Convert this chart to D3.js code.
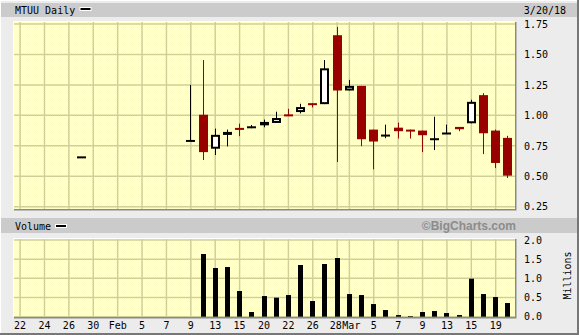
<!DOCTYPE html>
<html>
<head>
<meta charset="utf-8">
<script src="https://cdn.jsdelivr.net/npm/d3@7"></script>
<style>
  body { margin: 0; background: #ececec; }
  text { font-family: "DejaVu Sans Mono", monospace; font-size: 10px; fill: #000; }
  .domain { display: none; }
</style>
</head>
<body>
<script>
// trading days shown on the x axis (Jan 22 - Mar 20 2018)
var days = ["01-22","01-23","01-24","01-25","01-26","01-29","01-30","01-31",
    "02-01","02-02","02-05","02-06","02-07","02-08","02-09","02-12","02-13","02-14","02-15","02-16",
    "02-20","02-21","02-22","02-23","02-26","02-27","02-28",
    "03-01","03-02","03-05","03-06","03-07","03-08","03-09","03-12","03-13","03-14","03-15","03-16","03-19","03-20"];

var tickDays = ["01-22","01-24","01-26","01-30","02-01","02-05","02-07","02-09","02-13","02-15",
    "02-20","02-22","02-26","02-28","03-01","03-05","03-07","03-09","03-13","03-15","03-19"];
var tickLabels = ["22","24","26","30","Feb","5","7","9","13","15","20","22","26","28","Mar","5","7","9","13","15","19"];

// days that traded
var tradeDays = ["01-29","02-09","02-12","02-13","02-14","02-15","02-16","02-20","02-21","02-22","02-23",
    "02-26","02-27","02-28","03-01","03-02","03-05","03-06","03-07","03-08","03-09","03-12","03-13",
    "03-14","03-15","03-16","03-19","03-20"];
var open  = [0.655,0.79,1.005,0.726,0.845,0.897,0.902,0.918,0.9375,1.008,1.027,1.10,1.092,1.658,1.204,1.242,
    0.883,0.834,0.899,0.883,0.875,0.804,0.851,0.905,0.935,1.166,0.875,0.815];
var high  = [0.655,1.25,1.454,0.891,0.883,0.932,0.921,0.965,1.030,1.054,1.095,1.10,1.454,1.726,1.291,1.242,
    0.883,0.924,0.940,0.883,0.875,0.989,0.924,0.905,1.128,1.182,0.883,0.832];
var low   = [0.655,0.79,0.633,0.674,0.745,0.829,0.894,0.902,0.9375,1.002,1.016,1.065,1.092,0.617,1.204,0.747,
    0.557,0.8125,0.810,0.810,0.698,0.715,0.851,0.870,0.935,0.682,0.568,0.486];
var close = [0.655,0.79,0.698,0.840,0.864,0.891,0.902,0.946,0.978,1.002,1.068,1.095,1.386,1.204,1.242,0.804,
    0.785,0.834,0.870,0.870,0.837,0.804,0.851,0.886,1.111,0.853,0.609,0.505];
// volume in millions
var volume = [0,0,1.635,1.27,1.296,0.670,0.122,0.539,0.496,0.565,1.348,0.409,1.374,1.530,0.591,0.565,
    0.330,0.174,0.043,0.017,0.122,0.148,0.096,0.043,0.991,0.591,0.513,0.357];

var priceTicks = [0.25,0.50,0.75,1.00,1.25,1.50,1.75];
var volTicks = [0,0.5,1.0,1.5,2.0];

var width = 579, height = 335;
var plotL = 14, plotR = 515;
var pTop = 22, pBot = 209, vTop = 239, vBot = 317;
var red = "#990000";

var data = tradeDays.map(function (d, i) {
    return { day: d, o: open[i], h: high[i], l: low[i], c: close[i], v: volume[i] };
});

var svg = d3.select("body").append("svg")
    .attr("width", width)
    .attr("height", height)
    .style("display", "block");

var x = d3.scaleBand().domain(days).range([plotL, plotR - 1]);
var y = d3.scaleLinear().domain([0.25, 1.75]).range([206.7, 24]);
var vy = d3.scaleLinear().domain([0, 2]).range([316.7, 240]);
var cx = function (d) { return x(d) + x.bandwidth() / 2; };

// dithered yellow background
var pat = svg.append("defs").append("pattern")
    .attr("id", "dots").attr("width", 2).attr("height", 2)
    .attr("patternUnits", "userSpaceOnUse");
pat.append("rect").attr("width", 2).attr("height", 2).attr("fill", "#ffffff");
pat.append("rect").attr("width", 1).attr("height", 1).attr("fill", "#ffffc4");
pat.append("rect").attr("x", 1).attr("y", 1).attr("width", 1).attr("height", 1).attr("fill", "#ffffc4");

// outer frame
svg.append("rect").attr("width", width).attr("height", height).attr("fill", "#ececec");
svg.append("path").attr("d", "M0.5,335V0.5H579").attr("stroke", "#fff").attr("fill", "none");
svg.append("path").attr("d", "M578,0V334H0").attr("stroke", "#777").attr("stroke-width", 2).attr("fill", "none");

// header bands
svg.append("rect").attr("x", 1).attr("y", 3).attr("width", 576).attr("height", 14).attr("fill", "#cbcbcb");
svg.append("rect").attr("x", 1).attr("y", 218).attr("width", 576).attr("height", 15).attr("fill", "#cbcbcb");

svg.append("text").attr("x", 15).attr("y", 13.5).text("MTUU Daily");
svg.append("rect").attr("x", 80).attr("y", 7.5).attr("width", 11).attr("height", 3)
    .attr("fill", "#000").attr("stroke", "#fff").attr("stroke-width", 1);
svg.append("text").attr("x", 566).attr("y", 13.5).attr("text-anchor", "end").text("3/20/18");

svg.append("text").attr("x", 15).attr("y", 229.5).text("Volume");
svg.append("rect").attr("x", 55.5).attr("y", 224.5).attr("width", 11).attr("height", 3)
    .attr("fill", "#000").attr("stroke", "#fff").attr("stroke-width", 1);
svg.append("text").attr("x", 516).attr("y", 229.5).attr("text-anchor", "end")
    .style("font-family", "'Liberation Sans', Arial, sans-serif")
    .style("font-weight", "bold").style("font-size", "12px").style("fill", "#8c8c8c")
    .text("\u00a9BigCharts.com");

// panels
function panel(top, bot, ticks, scale) {
    svg.append("path").attr("d", "M" + (plotL - 0.5) + "," + (bot) + "V" + (top - 0.5) + "H" + (plotR))
        .attr("stroke", "#fff").attr("fill", "none");
    svg.append("rect").attr("x", plotL).attr("y", top)
        .attr("width", plotR - plotL).attr("height", bot - top)
        .attr("fill", "url(#dots)");
    var g = svg.append("g").attr("stroke", "#cfcf9a").attr("stroke-width", 1.5);
    g.selectAll(".h").data(ticks).enter().append("line")
        .attr("x1", plotL).attr("x2", plotR)
        .attr("y1", function (d) { return scale(d); })
        .attr("y2", function (d) { return scale(d); });
    g.selectAll(".v").data(tickDays).enter().append("line")
        .attr("x1", cx).attr("x2", cx)
        .attr("y1", top).attr("y2", bot);
    svg.append("path").attr("d", "M" + plotL + "," + (bot + 0.75) + "H" + (plotR + 0.75) + "V" + top)
        .attr("stroke", "#8a8a8a").attr("stroke-width", 1.5).attr("fill", "none");
}
panel(pTop, pBot, priceTicks, y);
panel(vTop, vBot, volTicks, vy);

// axes
svg.append("g")
    .attr("transform", "translate(" + plotR + ",0)")
    .call(d3.axisRight(y).tickValues(priceTicks).tickFormat(d3.format(".2f")).tickSize(0).tickPadding(9))
    .attr("font-family", null).attr("font-size", null);

svg.append("g")
    .attr("transform", "translate(" + plotR + ",0)")
    .call(d3.axisRight(vy).tickValues(volTicks).tickFormat(d3.format(".1f")).tickSize(0).tickPadding(9))
    .attr("font-family", null).attr("font-size", null);

svg.append("g")
    .attr("transform", "translate(0," + vBot + ")")
    .call(d3.axisBottom(x).tickValues(tickDays)
        .tickFormat(function (d, i) { return tickLabels[i]; })
        .tickSize(0).tickPadding(5))
    .attr("font-family", null).attr("font-size", null)
    .call(function (g) {
        // "28" and "Mar" sit next to each other, pull them apart a bit
        g.selectAll(".tick text")
            .attr("dx", function (d) { return d === "02-28" ? -1.5 : d === "03-01" ? 2 : 0; });
    });

svg.append("text")
    .attr("transform", "translate(571,275.5) rotate(-90)")
    .attr("text-anchor", "middle")
    .text("Millions");

// candles
var candles = svg.append("g").selectAll("g")
    .data(data)
    .enter()
    .append("g");

var bodyLeft = function (d) { return Math.round(cx(d.day) - 4.5); };
var colorOf = function (d) { return d.c < d.o ? red : "#000"; };

candles.append("line")
    .attr("x1", function (d) { return bodyLeft(d) + 4.5; })
    .attr("x2", function (d) { return bodyLeft(d) + 4.5; })
    .attr("y1", function (d) { return y(d.h); })
    .attr("y2", function (d) { return y(d.l); })
    .attr("stroke", colorOf)
    .attr("stroke-width", 1);

// falling days: filled red
candles.filter(function (d) { return d.c < d.o; })
    .append("rect")
    .attr("x", bodyLeft)
    .attr("y", function (d) { return y(d.o); })
    .attr("width", 9)
    .attr("height", function (d) { return Math.max(2, y(d.c) - y(d.o)); })
    .attr("fill", red);

// rising days: hollow
candles.filter(function (d) { return d.c > d.o; })
    .append("rect")
    .attr("x", function (d) { return bodyLeft(d) + 1; })
    .attr("y", function (d) { return y(d.c) + 1; })
    .attr("width", 7)
    .attr("height", function (d) { return Math.max(1, y(d.o) - y(d.c) - 2); })
    .attr("fill", "#fff")
    .attr("stroke", "#000")
    .attr("stroke-width", 2);

// unchanged: black dash
candles.filter(function (d) { return d.c === d.o; })
    .append("rect")
    .attr("x", bodyLeft)
    .attr("y", function (d) { return y(d.o) - 1; })
    .attr("width", 9)
    .attr("height", 2)
    .attr("fill", "#000");

// volume bars
svg.append("g").selectAll("rect")
    .data(data.filter(function (d) { return d.v > 0; }))
    .enter()
    .append("rect")
    .attr("x", function (d) { return Math.round(cx(d.day) - 2.5); })
    .attr("y", function (d) { return vy(d.v); })
    .attr("width", 5)
    .attr("height", function (d) { return vy(0) - vy(d.v); })
    .attr("fill", "#000");
</script>
</body>
</html>
